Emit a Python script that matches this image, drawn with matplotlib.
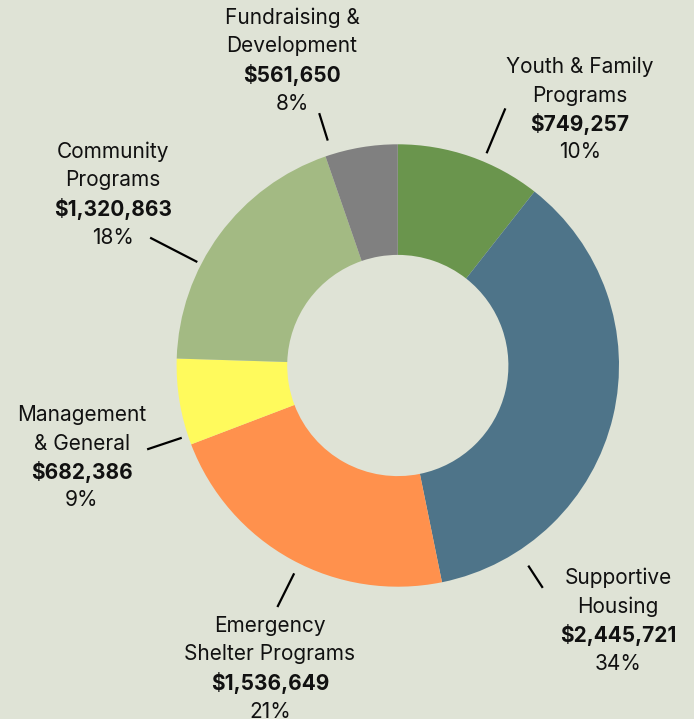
import numpy as np
import matplotlib
matplotlib.use("Agg")
import matplotlib.pyplot as plt

# slices in drawing order, clockwise from 12 o'clock
names = [
    "Youth & Family\nPrograms",
    "Supportive\nHousing",
    "Emergency\nShelter Programs",
    "Management\n& General",
    "Community\nPrograms",
    "Fundraising &\nDevelopment",
]
amounts = ["$749,257", "$2,445,721", "$1,536,649", "$682,386", "$1,320,863", "$561,650"]
pct_labels = ["10%", "34%", "21%", "9%", "18%", "8%"]
# slice sizes as drawn in the picture (percent of the ring)
slice_share = [10.6, 36.2, 22.4, 6.3, 19.2, 5.3]
colors = ["#6a954d", "#4e7489", "#ff914d", "#fffa5c", "#a3ba83", "#808080"]

bg = "#dfe3d6"
W, H = 694, 719
R_PX = 221.2
CX, CY = 397.8, 365.5

# label layout: text centre x, first line y (pixels), leader angle (deg cw from top), r in, r out
label_layout = [
    (580, 67, 22.7, 1.04, 1.26),
    (618, 578, 146.9, 1.08, 1.20),
    (270, 626, 206.5, 1.05, 1.22),
    (82, 415, 251.5, 1.03, 1.195),
    (113, 152, 297.3, 1.02, 1.26),
    (292, 18, 342.7, 1.065, 1.195),
]


def px(x, y):
    return (x - CX) / R_PX, (CY - y) / R_PX


fig = plt.figure(figsize=(W / 100, H / 100), dpi=100)
fig.patch.set_facecolor(bg)
ax = fig.add_axes([0, 0, 1, 1])
ax.set_facecolor(bg)

ax.pie(
    slice_share,
    colors=colors,
    startangle=90,
    counterclock=False,
    radius=1,
    wedgeprops=dict(width=0.5, linewidth=0),
)

x0, y0 = px(0, H)
x1, y1 = px(W, 0)
ax.set_xlim(x0, x1)
ax.set_ylim(y0, y1)
ax.set_aspect("auto")
ax.axis("off")

font = "Inter"
line_h = 28.5
for name, amt, pct, (tx, ty, ang, r_in, r_out) in zip(names, amounts, pct_labels, label_layout):
    lines = name.split("\n") + [amt, pct]
    for i, line in enumerate(lines):
        lx, ly = px(tx, ty + i * line_h)
        ax.text(
            lx, ly, line,
            ha="center", va="center",
            fontsize=15, family=font,
            fontweight="bold" if i == 2 else "normal",
            color="#111111",
        )
    a = np.deg2rad(ang)
    ax.plot(
        [r_in * np.sin(a), r_out * np.sin(a)],
        [r_in * np.cos(a), r_out * np.cos(a)],
        color="black", lw=1.6, solid_capstyle="butt",
    )

fig.savefig("out.png", dpi=100, facecolor=bg)
